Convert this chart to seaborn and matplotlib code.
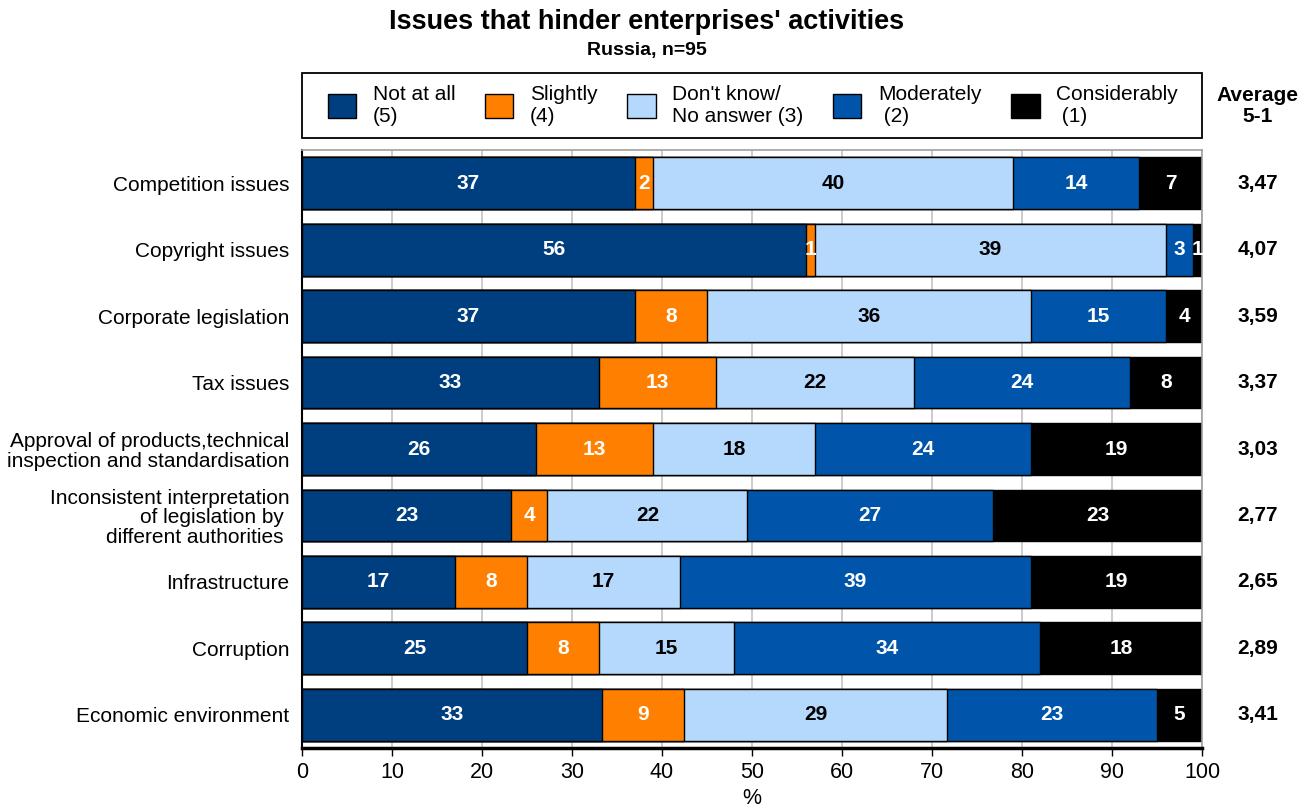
import numpy as np
import pandas as pd
import matplotlib
matplotlib.use("Agg")
import matplotlib.pyplot as plt
import seaborn as sns
from matplotlib.patches import Patch, Rectangle

# Survey answers per issue (% of respondents)
issues = [
    "Competition issues",
    "Copyright issues",
    "Corporate legislation",
    "Tax issues",
    "Approval of products,technical\ninspection and standardisation",
    "Inconsistent interpretation\nof legislation by \ndifferent authorities ",
    "Infrastructure",
    "Corruption",
    "Economic environment",
]
not_at_all = [37, 56, 37, 33, 26, 23, 17, 25, 33]
slightly = [2, 1, 8, 13, 13, 4, 8, 8, 9]
dont_know = [40, 39, 36, 22, 18, 22, 17, 15, 29]
moderately = [14, 3, 15, 24, 24, 27, 39, 34, 23]
considerably = [7, 1, 4, 8, 19, 23, 19, 18, 5]
averages = ["3,47", "4,07", "3,59", "3,37", "3,03", "2,77", "2,65", "2,89", "3,41"]

series_labels = [
    "Not at all\n(5)",
    "Slightly\n(4)",
    "Don't know/\nNo answer (3)",
    "Moderately\n (2)",
    "Considerably\n (1)",
]
colors = ["#003F7F", "#FF8000", "#B4D9FC", "#0055AA", "#000000"]
text_colors = ["white", "white", "black", "white", "white"]

sns.set_theme(style="white")
plt.rcParams["font.family"] = ["Liberation Sans", "DejaVu Sans"]
plt.rcParams["text.color"] = "black"
plt.rcParams["axes.labelcolor"] = "black"
plt.rcParams["xtick.color"] = "black"
plt.rcParams["ytick.color"] = "black"

W, H = 1310, 808
fig = plt.figure(figsize=(W / 100, H / 100), dpi=100)
ax = fig.add_axes([302 / W, 1 - 748 / H, 900 / W, 598 / H])

values = np.array([not_at_all, slightly, dont_know, moderately, considerably], dtype=float)
shares = values / values.sum(axis=0) * 100
ends = shares.cumsum(axis=0)

# Stack by overlaying cumulative bars, longest first
for k in range(len(series_labels) - 1, -1, -1):
    df = pd.DataFrame({"issue": issues, "end": ends[k]})
    sns.barplot(data=df, x="end", y="issue", order=issues, orient="h",
                color=colors[k], saturation=1, width=0.78, errorbar=None,
                edgecolor="black", linewidth=1.0, ax=ax, zorder=2)

for k in range(len(series_labels)):
    for i in range(len(issues)):
        centre = ends[k, i] - shares[k, i] / 2
        ax.text(centre, i, f"{int(values[k, i])}", ha="center", va="center",
                color=text_colors[k], fontsize=15, fontweight="bold", zorder=3)

ytrans = ax.get_yaxis_transform()
for i, avg in enumerate(averages):
    ax.text(1.062, i, avg, transform=ytrans, ha="center", va="center",
            fontsize=15, fontweight="bold")
ax.text(1.062, 1.073, "Average\n5-1", transform=ax.transAxes, ha="center",
        va="center", fontsize=15, fontweight="bold", linespacing=1.15)

ax.set_xlim(0, 100)
ax.set_ylim(len(issues) - 0.5, -0.5)
ax.set_xticks(range(0, 101, 10))
ax.set_axisbelow(True)
ax.xaxis.grid(True, color="#c4c4c4", linewidth=1.2)
ax.yaxis.grid(False)
ax.set_ylabel("")
ax.set_xlabel("%", fontsize=15.5, labelpad=4)
ax.tick_params(axis="x", bottom=True, length=6, width=1, color="black",
               direction="out", labelsize=15.5, pad=4)
ax.tick_params(axis="y", left=False, labelsize=15, pad=3)
for lbl in ax.get_yticklabels():
    lbl.set_linespacing(1.05)

for side in ["top", "right"]:
    ax.spines[side].set_color("#a0a0a0")
    ax.spines[side].set_linewidth(1.2)
ax.spines["left"].set_color("black")
ax.spines["left"].set_linewidth(1.5)
ax.spines["bottom"].set_color("black")
ax.spines["bottom"].set_linewidth(2.5)

# Legend box across the plot width, entries spread inside it
box_bottom = (748 - 138) / 598
box_top = (748 - 73) / 598
ax.add_patch(Rectangle((0, box_bottom), 1, box_top - box_bottom,
                       transform=ax.transAxes, facecolor="white",
                       edgecolor="black", linewidth=1.3, clip_on=False))
handles = [Patch(facecolor=c, edgecolor="black", linewidth=1.0) for c in colors]
leg = ax.legend(handles, series_labels, ncol=5, loc="center",
                bbox_to_anchor=(26 / 900, box_bottom, (1178 - 328) / 900,
                                box_top - box_bottom),
                mode="expand", frameon=False, fontsize=15,
                handlelength=1.35, handleheight=1.35,
                handletextpad=0.8, borderaxespad=0, borderpad=0)

fig.text(647 / W, 1 - 22 / H, "Issues that hinder enterprises' activities",
         ha="center", va="center", fontsize=19.5, fontweight="bold")
fig.text(647 / W, 1 - 50 / H, "Russia, n=95", ha="center", va="center",
         fontsize=14, fontweight="bold")

fig.savefig("out.png", dpi=100)
